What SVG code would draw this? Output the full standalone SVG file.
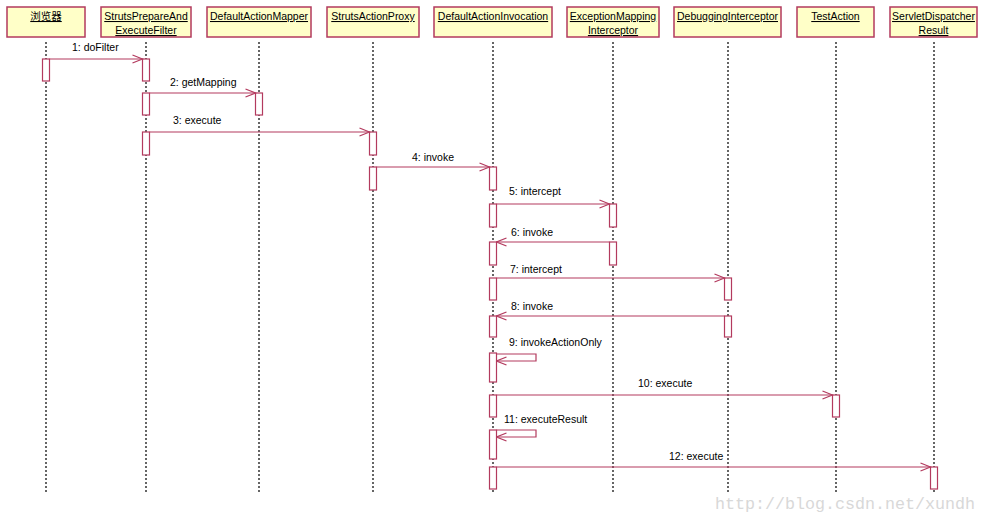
<svg xmlns="http://www.w3.org/2000/svg" width="986" height="524" viewBox="0 0 986 524">
<defs>
<style>
.obj{fill:#ffffc8;stroke:#b33a5e;stroke-width:1.5}
.hd{font-family:"Liberation Sans",Arial,sans-serif;font-size:10.5px;fill:#000;text-anchor:middle;text-decoration:underline}
.life{stroke:#333;stroke-width:1.5;stroke-dasharray:2,2;fill:none}
.act{fill:#fff;stroke:#b33a5e;stroke-width:1.2}
.msg{stroke:#b33a5e;stroke-width:1.2;fill:none}
.lbl{font-family:"Liberation Sans",Arial,sans-serif;font-size:10.5px;fill:#000}
.wm{font-family:"Liberation Mono","Courier New",monospace;font-size:16.7px;fill:#d8d8d8}
</style>
<marker id="open" viewBox="0 0 12 10" refX="11" refY="5" markerWidth="12" markerHeight="10" markerUnits="userSpaceOnUse" orient="auto">
<path d="M1,1 L11,5 L1,9" fill="none" stroke="#b33a5e" stroke-width="1.2"/>
</marker>
</defs>
<rect width="986" height="524" fill="#fff"/>

<g id="lifelines">
<line class="life" x1="46" y1="42" x2="46" y2="494"/>
<line class="life" x1="146" y1="42" x2="146" y2="494"/>
<line class="life" x1="259" y1="42" x2="259" y2="494"/>
<line class="life" x1="373" y1="42" x2="373" y2="494"/>
<line class="life" x1="493" y1="42" x2="493" y2="494"/>
<line class="life" x1="613" y1="42" x2="613" y2="494"/>
<line class="life" x1="728" y1="42" x2="728" y2="494"/>
<line class="life" x1="836" y1="42" x2="836" y2="494"/>
<line class="life" x1="934" y1="42" x2="934" y2="494"/>
</g>

<g id="browser">
<rect class="obj" x="7" y="7" width="78" height="30"/>
<text class="hd" x="46" y="20" style="font-family:'Liberation Sans','Noto Sans CJK SC',sans-serif">浏览器</text>
<rect class="act" x="42.5" y="59" width="7" height="22"/>
</g>
<g id="strutsPrepare">
<rect class="obj" x="101" y="7" width="90" height="30"/>
<text class="hd" x="146" y="20">StrutsPrepareAnd</text>
<text class="hd" x="146" y="34">ExecuteFilter</text>
<rect class="act" x="142.5" y="59" width="7" height="22"/>
<rect class="act" x="142.5" y="93" width="7" height="22"/>
<rect class="act" x="142.5" y="132" width="7" height="23"/>
</g>
<g id="mapper">
<rect class="obj" x="207" y="7" width="104" height="30"/>
<text class="hd" x="259" y="20">DefaultActionMapper</text>
<rect class="act" x="255.5" y="93" width="7" height="22"/>
</g>
<g id="proxy">
<rect class="obj" x="327" y="7" width="92" height="30"/>
<text class="hd" x="373" y="20">StrutsActionProxy</text>
<rect class="act" x="369.5" y="132" width="7" height="23"/>
<rect class="act" x="369.5" y="167" width="7" height="23"/>
</g>
<g id="invocation">
<rect class="obj" x="434" y="7" width="118" height="30"/>
<text class="hd" x="493" y="20">DefaultActionInvocation</text>
<rect class="act" x="489.5" y="167" width="7" height="23"/>
<rect class="act" x="489.5" y="204" width="7" height="23"/>
<rect class="act" x="489.5" y="242" width="7" height="23"/>
<rect class="act" x="489.5" y="278" width="7" height="22"/>
<rect class="act" x="489.5" y="316" width="7" height="21"/>
<rect class="act" x="489.5" y="353" width="7" height="29"/>
<rect class="act" x="489.5" y="395" width="7" height="22"/>
<rect class="act" x="489.5" y="430" width="7" height="29"/>
<rect class="act" x="489.5" y="467" width="7" height="22"/>
</g>
<g id="exceptionMapping">
<rect class="obj" x="567" y="7" width="92" height="30"/>
<text class="hd" x="613" y="20">ExceptionMapping</text>
<text class="hd" x="613" y="34">Interceptor</text>
<rect class="act" x="609.5" y="204" width="7" height="23"/>
<rect class="act" x="609.5" y="242" width="7" height="23"/>
</g>
<g id="debugging">
<rect class="obj" x="674" y="7" width="107" height="30"/>
<text class="hd" x="727.5" y="20">DebuggingInterceptor</text>
<rect class="act" x="724.5" y="278" width="7" height="22"/>
<rect class="act" x="724.5" y="316" width="7" height="21"/>
</g>
<g id="testAction">
<rect class="obj" x="797" y="7" width="77" height="30"/>
<text class="hd" x="835.5" y="20">TestAction</text>
<rect class="act" x="832.5" y="395" width="7" height="22"/>
</g>
<g id="servletResult">
<rect class="obj" x="890" y="7" width="87" height="30"/>
<text class="hd" x="933.5" y="20">ServletDispatcher</text>
<text class="hd" x="933.5" y="34">Result</text>
<rect class="act" x="930.5" y="467" width="7" height="22"/>
</g>

<g id="connectors">
<line class="msg" x1="49.5" y1="59" x2="142.5" y2="59" marker-end="url(#open)"/>
<text class="lbl" x="72" y="51">1: doFilter</text>
<line class="msg" x1="149.5" y1="93" x2="255.5" y2="93" marker-end="url(#open)"/>
<text class="lbl" x="170" y="86">2: getMapping</text>
<line class="msg" x1="149.5" y1="132" x2="369.5" y2="132" marker-end="url(#open)"/>
<text class="lbl" x="173" y="124">3: execute</text>
<line class="msg" x1="376.5" y1="167" x2="489.5" y2="167" marker-end="url(#open)"/>
<text class="lbl" x="412" y="161">4: invoke</text>
<line class="msg" x1="496.5" y1="204" x2="609.5" y2="204" marker-end="url(#open)"/>
<text class="lbl" x="509" y="195">5: intercept</text>
<line class="msg" x1="609.5" y1="242" x2="496.5" y2="242" marker-end="url(#open)"/>
<text class="lbl" x="511" y="236">6: invoke</text>
<line class="msg" x1="496.5" y1="278" x2="724.5" y2="278" marker-end="url(#open)"/>
<text class="lbl" x="510" y="273">7: intercept</text>
<line class="msg" x1="724.5" y1="316" x2="496.5" y2="316" marker-end="url(#open)"/>
<text class="lbl" x="511" y="310">8: invoke</text>
<polyline class="msg" points="496.5,354 536,354 536,361 496.5,361" marker-end="url(#open)"/>
<text class="lbl" x="509" y="346">9: invokeActionOnly</text>
<line class="msg" x1="496.5" y1="395" x2="832.5" y2="395" marker-end="url(#open)"/>
<text class="lbl" x="638" y="387">10: execute</text>
<polyline class="msg" points="496.5,430 536,430 536,437 496.5,437" marker-end="url(#open)"/>
<text class="lbl" x="504" y="423">11: executeResult</text>
<line class="msg" x1="496.5" y1="467" x2="930.5" y2="467" marker-end="url(#open)"/>
<text class="lbl" x="669" y="460">12: execute</text>
</g>

<text class="wm" x="715" y="509" textLength="260">http://blog.csdn.net/xundh</text>
</svg>
